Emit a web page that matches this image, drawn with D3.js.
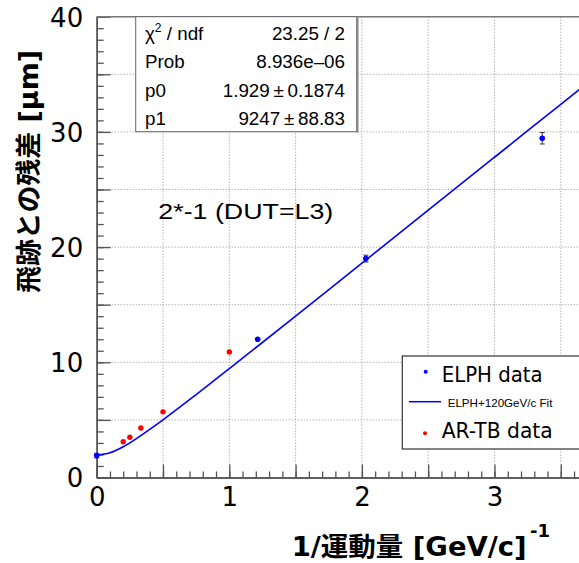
<!DOCTYPE html>
<html><head><meta charset="utf-8">
<script src="https://cdn.jsdelivr.net/npm/d3@7"></script>
<style>
html,body{margin:0;padding:0;background:#fff;}
svg{display:block;}
</style></head>
<body>
<svg id="chart" width="579" height="563"></svg>
<script>
// ---- data ----
const elphX = [0, 1.214, 2.03, 3.36];
const elphY = [1.9, 12.0, 19.0, 29.45];
const elphErr = [0.19, 0.15, 0.3, 0.5];
const artbX = [0.2, 0.25, 0.333, 0.5, 1.0];
const artbY = [3.1, 3.5, 4.3, 5.7, 10.9];
const fitX = [0, 0.1, 0.2, 0.3, 0.4, 0.5, 0.75, 1, 1.5, 2, 2.5, 3, 3.5, 3.75];
const fitY = [1.93, 2.14, 2.67, 3.38, 4.18, 5.01, 7.2, 9.45, 14.0, 18.6, 23.2, 27.8, 32.4, 34.7];
const xTickLabels = [0, 1, 2, 3];
const yTickLabels = [0, 10, 20, 30, 40];
const statsNames = ["p0", "p1"];
const statsValues = ["1.929\u2009\u00b1\u20090.1874", "9247\u2009\u00b1\u200988.83"];
const legendLabels = ["ELPH data", "ELPH+120GeV/c Fit", "AR-TB data"];

const svg = d3.select("#chart");
const L = 96.7, R = 590, T = 16.7, B = 477.5;
const x = d3.scaleLinear().domain([0, (R - L) / 132.6]).range([L, R]);
const y = d3.scaleLinear().domain([0, 40]).range([B, T]);

// grid
const gGrid = svg.append("g").attr("stroke", "#8f8f8f").attr("stroke-width", 1).attr("stroke-dasharray", "1,2");
gGrid.selectAll("line.v").data(d3.range(0.5, 3.51, 0.5)).join("line")
  .attr("x1", d => x(d)).attr("x2", d => x(d)).attr("y1", T).attr("y2", B);
gGrid.selectAll("line.h").data(d3.range(5, 36, 5)).join("line")
  .attr("y1", d => y(d)).attr("y2", d => y(d)).attr("x1", L).attr("x2", R);

// axes ticks (inward)
const axCol = "#555";
function styleAxis(g){ g.select(".domain").attr("stroke", axCol).attr("stroke-width", 1.5); g.selectAll(".tick line").attr("stroke", axCol).attr("stroke-width", 1.3); }
svg.append("g").attr("transform", `translate(0,${B})`)
  .call(d3.axisBottom(x).tickValues(d3.range(0, 3.75, 0.1)).tickSizeInner(-6).tickSizeOuter(0).tickFormat(""))
  .call(styleAxis);
svg.append("g").attr("transform", `translate(0,${B})`)
  .call(d3.axisBottom(x).tickValues(d3.range(0, 3.75, 0.5)).tickSizeInner(-13).tickSizeOuter(0).tickFormat(""))
  .call(styleAxis);
svg.append("g").attr("transform", `translate(${L},0)`)
  .call(d3.axisLeft(y).tickValues(d3.range(0, 41, 1)).tickSizeInner(-7).tickSizeOuter(0).tickFormat(""))
  .call(styleAxis);
svg.append("g").attr("transform", `translate(${L},0)`)
  .call(d3.axisLeft(y).tickValues(d3.range(0, 41, 5)).tickSizeInner(-14).tickSizeOuter(0).tickFormat(""))
  .call(styleAxis);
// top frame
svg.append("line").attr("x1", L).attr("x2", R).attr("y1", T).attr("y2", T).attr("stroke", "#777").attr("stroke-width", 1.6);

// tick labels
const xl = svg.append("g").attr("transform", `translate(0,${B})`)
  .call(d3.axisBottom(x).tickValues(xTickLabels).tickSize(0).tickPadding(0).tickFormat(d3.format("d")));
xl.select(".domain").remove();
xl.selectAll("text").attr("font-family", "DejaVu Sans").attr("font-size", 26).attr("fill", "#000").attr("dy", null).attr("y", 28);
const yl = svg.append("g").attr("transform", `translate(${L},0)`)
  .call(d3.axisLeft(y).tickValues(yTickLabels).tickSize(0).tickPadding(13.5).tickFormat(d3.format("d")));
yl.select(".domain").remove();
yl.selectAll("text").attr("font-family", "DejaVu Sans").attr("font-size", 26).attr("fill", "#000").attr("dy", "0.36em");

// fit curve
svg.append("path").datum(fitX.map((v, i) => [v, fitY[i]]))
  .attr("fill", "none").attr("stroke", "#0000ff").attr("stroke-width", 1.6)
  .attr("d", d3.line().x(d => x(d[0])).y(d => y(d[1])).curve(d3.curveMonotoneX));

// error bars
const eb = svg.append("g").attr("stroke", "#333").attr("stroke-width", 1);
elphX.forEach((v, i) => {
  const cx = x(v), y1 = y(elphY[i] + elphErr[i]), y2 = y(elphY[i] - elphErr[i]);
  if (y2 - y1 > 4) {
    eb.append("line").attr("x1", cx).attr("x2", cx).attr("y1", y1).attr("y2", y2);
    eb.append("line").attr("x1", cx - 2.5).attr("x2", cx + 2.5).attr("y1", y1).attr("y2", y1);
    eb.append("line").attr("x1", cx - 2.5).attr("x2", cx + 2.5).attr("y1", y2).attr("y2", y2);
  }
});
// points
svg.append("g").selectAll("circle").data(elphX.map((v, i) => [v, elphY[i]])).join("circle")
  .attr("cx", d => x(d[0])).attr("cy", d => y(d[1])).attr("r", 2.8).attr("fill", "#0000ff");
svg.append("g").selectAll("circle").data(artbX.map((v, i) => [v, artbY[i]])).join("circle")
  .attr("cx", d => x(d[0])).attr("cy", d => y(d[1])).attr("r", 2.7).attr("fill", "#ff0000");

// stats box
const sb = svg.append("g");
sb.append("rect").attr("x", 135.7).attr("y", T).attr("width", 221).attr("height", 115).attr("fill", "#fff").attr("stroke", "#666").attr("stroke-width", 1);
sb.append("line").attr("x1", 357.5).attr("x2", 357.5).attr("y1", T + 1).attr("y2", T + 116).attr("stroke", "#888").attr("stroke-width", 2);
const sf = {"font-family": "Liberation Sans, Arial, sans-serif", "font-size": 18.8, "fill": "#000"};
function st(sel){ Object.entries(sf).forEach(([k, v]) => sel.attr(k, v)); return sel; }
const rowsY = [39.8, 68.2, 96.6, 125];
const chi = st(sb.append("text").attr("x", 145).attr("y", rowsY[0]));
chi.append("tspan").text("\u03c7");
chi.append("tspan").attr("font-size", 12).attr("dy", -8).text("2");
chi.append("tspan").attr("dy", 8).text(" / ndf");
st(sb.append("text").attr("x", 345).attr("y", rowsY[0]).attr("text-anchor", "end").text("23.25 / 2"));
st(sb.append("text").attr("x", 145).attr("y", rowsY[1]).text("Prob"));
st(sb.append("text").attr("x", 345).attr("y", rowsY[1]).attr("text-anchor", "end").text("8.936e\u201306"));
statsNames.forEach((n, i) => {
  st(sb.append("text").attr("x", 145).attr("y", rowsY[2 + i]).text(n));
  st(sb.append("text").attr("x", 345).attr("y", rowsY[2 + i]).attr("text-anchor", "end").text(statsValues[i]));
});

// annotation
svg.append("text").attr("x", 158.3).attr("y", 218.5).attr("font-family", "Liberation Sans, Arial, sans-serif")
  .attr("font-size", 22).attr("textLength", 175).attr("lengthAdjust", "spacingAndGlyphs").attr("fill", "#000").text("2*-1 (DUT=L3)");

// legend
const lg = svg.append("g");
lg.append("rect").attr("x", 402.3).attr("y", 356).attr("width", 190).attr("height", 93).attr("fill", "#fff").attr("stroke", "#333").attr("stroke-width", 1.2);
lg.append("circle").attr("cx", 425.7).attr("cy", 371.7).attr("r", 2).attr("fill", "#0000ff");
lg.append("line").attr("x1", 409).attr("x2", 441).attr("y1", 401.7).attr("y2", 401.7).attr("stroke", "#0000ff").attr("stroke-width", 1.5);
lg.append("circle").attr("cx", 425).attr("cy", 433.3).attr("r", 2).attr("fill", "#ff0000");
lg.append("text").attr("x", 441.7).attr("y", 381.8).attr("font-family", "DejaVu Sans").attr("font-size", 20.5).attr("textLength", 101).attr("lengthAdjust", "spacingAndGlyphs").text(legendLabels[0]);
lg.append("text").attr("x", 447.7).attr("y", 406.8).attr("font-family", "Liberation Sans, Arial, sans-serif").attr("font-size", 11.5).attr("textLength", 104.7).attr("lengthAdjust", "spacingAndGlyphs").text(legendLabels[1]);
lg.append("text").attr("x", 441.7).attr("y", 438.2).attr("font-family", "DejaVu Sans").attr("font-size", 20.5).attr("textLength", 111).attr("lengthAdjust", "spacingAndGlyphs").text(legendLabels[2]);

// axis titles
const xt = svg.append("text").attr("x", 291.7).attr("y", 555.5).attr("font-family", "DejaVu Sans, Noto Sans CJK JP").attr("font-weight", "bold").attr("font-size", 26).attr("fill", "#000");
xt.append("tspan").attr("textLength", 235).attr("lengthAdjust", "spacingAndGlyphs").text("1/運動量 [GeV/c]");
svg.append("text").attr("x", 530).attr("y", 537).attr("font-family", "DejaVu Sans").attr("font-weight", "bold").attr("font-size", 18).attr("fill", "#000").text("-1");
svg.append("text").attr("transform", "translate(37.5,171.5) rotate(-90)").attr("text-anchor", "middle")
  .attr("font-family", "DejaVu Sans, Noto Sans CJK JP").attr("font-weight", "bold").attr("font-size", 26).attr("fill", "#000")
  .attr("textLength", 243).attr("lengthAdjust", "spacingAndGlyphs").text("飛跡との残差 [μm]");
</script>
</body></html>
